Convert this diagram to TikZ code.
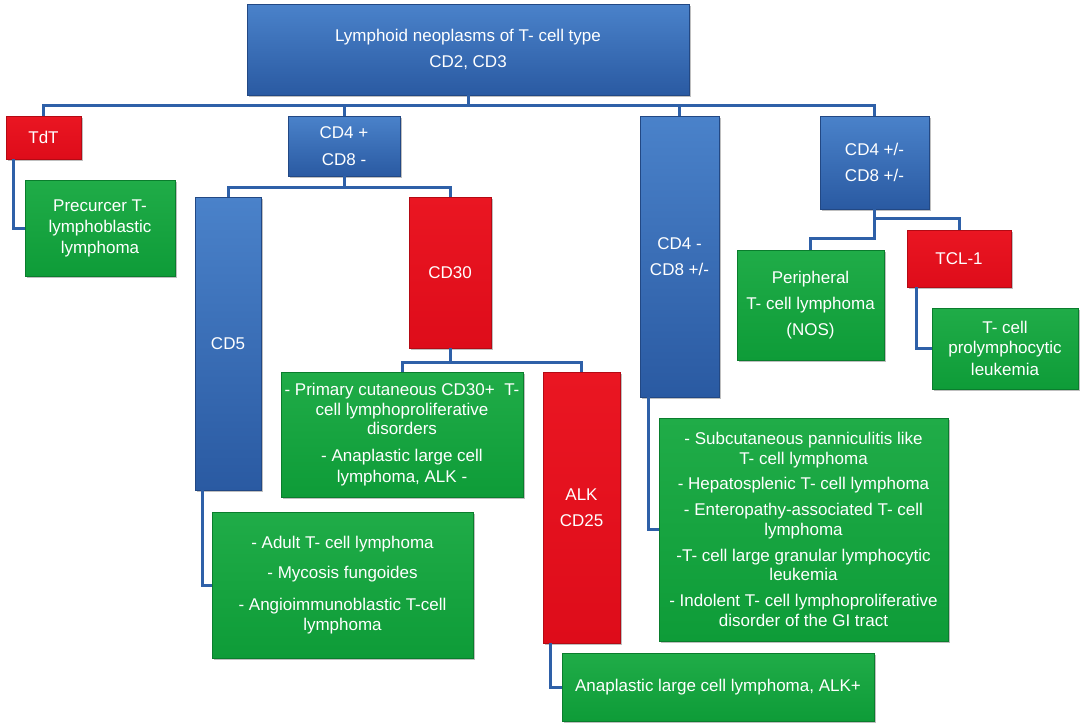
\documentclass[tikz,border=0pt]{standalone}
\usepackage{fontspec}
\setmainfont{Liberation Sans}
\usepackage{tikz}
\usetikzlibrary{shadows}
\definecolor{bxtop}{RGB}{74,130,202}
\definecolor{bxbot}{RGB}{42,90,162}
\definecolor{bxedge}{RGB}{34,72,132}
\definecolor{gntop}{RGB}{32,172,72}
\definecolor{gnbot}{RGB}{14,156,56}
\definecolor{gnedge}{RGB}{10,125,45}
\definecolor{rdtop}{RGB}{234,22,34}
\definecolor{rdbot}{RGB}{222,12,26}
\definecolor{rdedge}{RGB}{180,10,20}
\definecolor{lnk}{RGB}{46,96,168}

\begin{document}
\begin{tikzpicture}[
x=1pt, y=-1pt,
bx/.style={inner sep=0pt, outer sep=0pt, align=center, text=white,
  font={\fontsize{17}{19.5}\selectfont},
  drop shadow={shadow xshift=2pt, shadow yshift=-2pt, opacity=.25, fill=black}},
bluebox/.style={bx, draw=bxedge, line width=.6pt, top color=bxtop, bottom color=bxbot},
greenbox/.style={bx, draw=gnedge, line width=.6pt, top color=gntop, bottom color=gnbot},
redbox/.style={bx, draw=rdedge, line width=.6pt, top color=rdtop, bottom color=rdbot},
link/.style={draw=lnk, line width=3pt}
]
\useasboundingbox (0,0) rectangle (1080,724);
% top level
\node[bluebox, minimum width=442, minimum height=91] (top) at (468,49.5)
  {\raisebox{-3pt}{Lymphoid neoplasms of T- cell type}\\[6.5pt]\raisebox{-3pt}{CD2, CD3}};
% second row
\node[redbox, minimum width=75, minimum height=43] (tdt) at (43.5,137.5) {TdT};
\node[bluebox, minimum width=112, minimum height=60] (cdp) at (344,146) {CD4 +\\[8pt]CD8 -};
\node[bluebox, minimum width=79, minimum height=281] (cdm) at (679.5,256.5) {CD4 -\\[6.5pt]CD8 +/-};
\node[bluebox, minimum width=109, minimum height=93] (cdpm) at (874.5,162.5) {CD4 +/-\\[6.5pt]CD8 +/-};
% under CD4+ CD8-
\node[bluebox, minimum width=66, minimum height=293] (cd5) at (228,343.5) {CD5};
\node[redbox, minimum width=82, minimum height=151] (cd30) at (450,272.5) {CD30};
\node[redbox, minimum width=77, minimum height=271] (alk) at (581.5,507.5) {ALK\\[7pt]CD25};
\node[redbox, minimum width=104, minimum height=57] (tcl) at (959,258.5) {TCL-1};
% entities
\node[greenbox, minimum width=150, minimum height=96] (gprec) at (100,228)
  {Precurcer T-\\[1.5pt]lymphoblastic\\[1.5pt]lymphoma};
\node[greenbox, minimum width=242, minimum height=125] (gcd30) at (402,434.5)
  {- Primary cutaneous CD30+\ \ T-\\cell lymphoproliferative\\disorders\\[7pt]- Anaplastic large cell\\[1.5pt]lymphoma, ALK -};
\node[greenbox, minimum width=261, minimum height=146] (gcd5) at (342.5,585)
  {- Adult T- cell lymphoma\\[10.5pt]- Mycosis fungoides\\[12.5pt]- Angioimmunoblastic T-cell\\lymphoma};
\node[greenbox, minimum width=312, minimum height=68] (galk) at (718,687)
  {Anaplastic large cell lymphoma, ALK+};
\node[greenbox, minimum width=289, minimum height=223] (gcdm) at (803.5,529.5)
  {- Subcutaneous panniculitis like\\T- cell lymphoma\\[6pt]- Hepatosplenic T- cell lymphoma\\[6.5pt]- Enteropathy-associated T- cell\\lymphoma\\[6.5pt]-T- cell large granular lymphocytic\\leukemia\\[6.5pt]- Indolent T- cell lymphoproliferative\\disorder of the GI tract};
\node[greenbox, minimum width=147, minimum height=110] (gper) at (810.5,305)
  {Peripheral\\[6.5pt]T- cell lymphoma\\[6.5pt](NOS)};
\node[greenbox, minimum width=146, minimum height=81] (gtpl) at (1005,348.5)
  {T- cell\\[1pt]prolymphocytic\\[2.5pt]leukemia};
% connectors
\draw[link] (top.south) -- ++(0,10) coordinate (bus);
\draw[link] (bus) -| (tdt.north);
\draw[link] (bus) -| (cdp.north);
\draw[link] (bus) -| (cdm.north);
\draw[link] (bus) -| (cdpm.north);
\draw[link] (cdp.south) -- ++(0,11) coordinate (bus2);
\draw[link] (bus2) -| (cd5.north);
\draw[link] (bus2) -| (cd30.north);
\draw[link] (cd30.south) -- ++(0,14) coordinate (bus3);
\draw[link] (bus3) -| (gcd30.north);
\draw[link] (bus3) -| (alk.north);
\draw[link] (cdpm.south) -- ++(0,9) -| (tcl.north);
\draw[link] (cdpm.south) -- ++(0,29) -| (gper.north);
\draw[link] ([xshift=7pt]tdt.south west) |- (gprec.west);
\draw[link] ([xshift=7pt]cd5.south west) |- (gcd5.west);
\draw[link] ([xshift=7pt]alk.south west) |- (galk.west);
\draw[link] ([xshift=8pt]cdm.south west) |- (gcdm.west);
\draw[link] ([xshift=9pt]tcl.south west) |- (gtpl.west);
\end{tikzpicture}
\end{document}
